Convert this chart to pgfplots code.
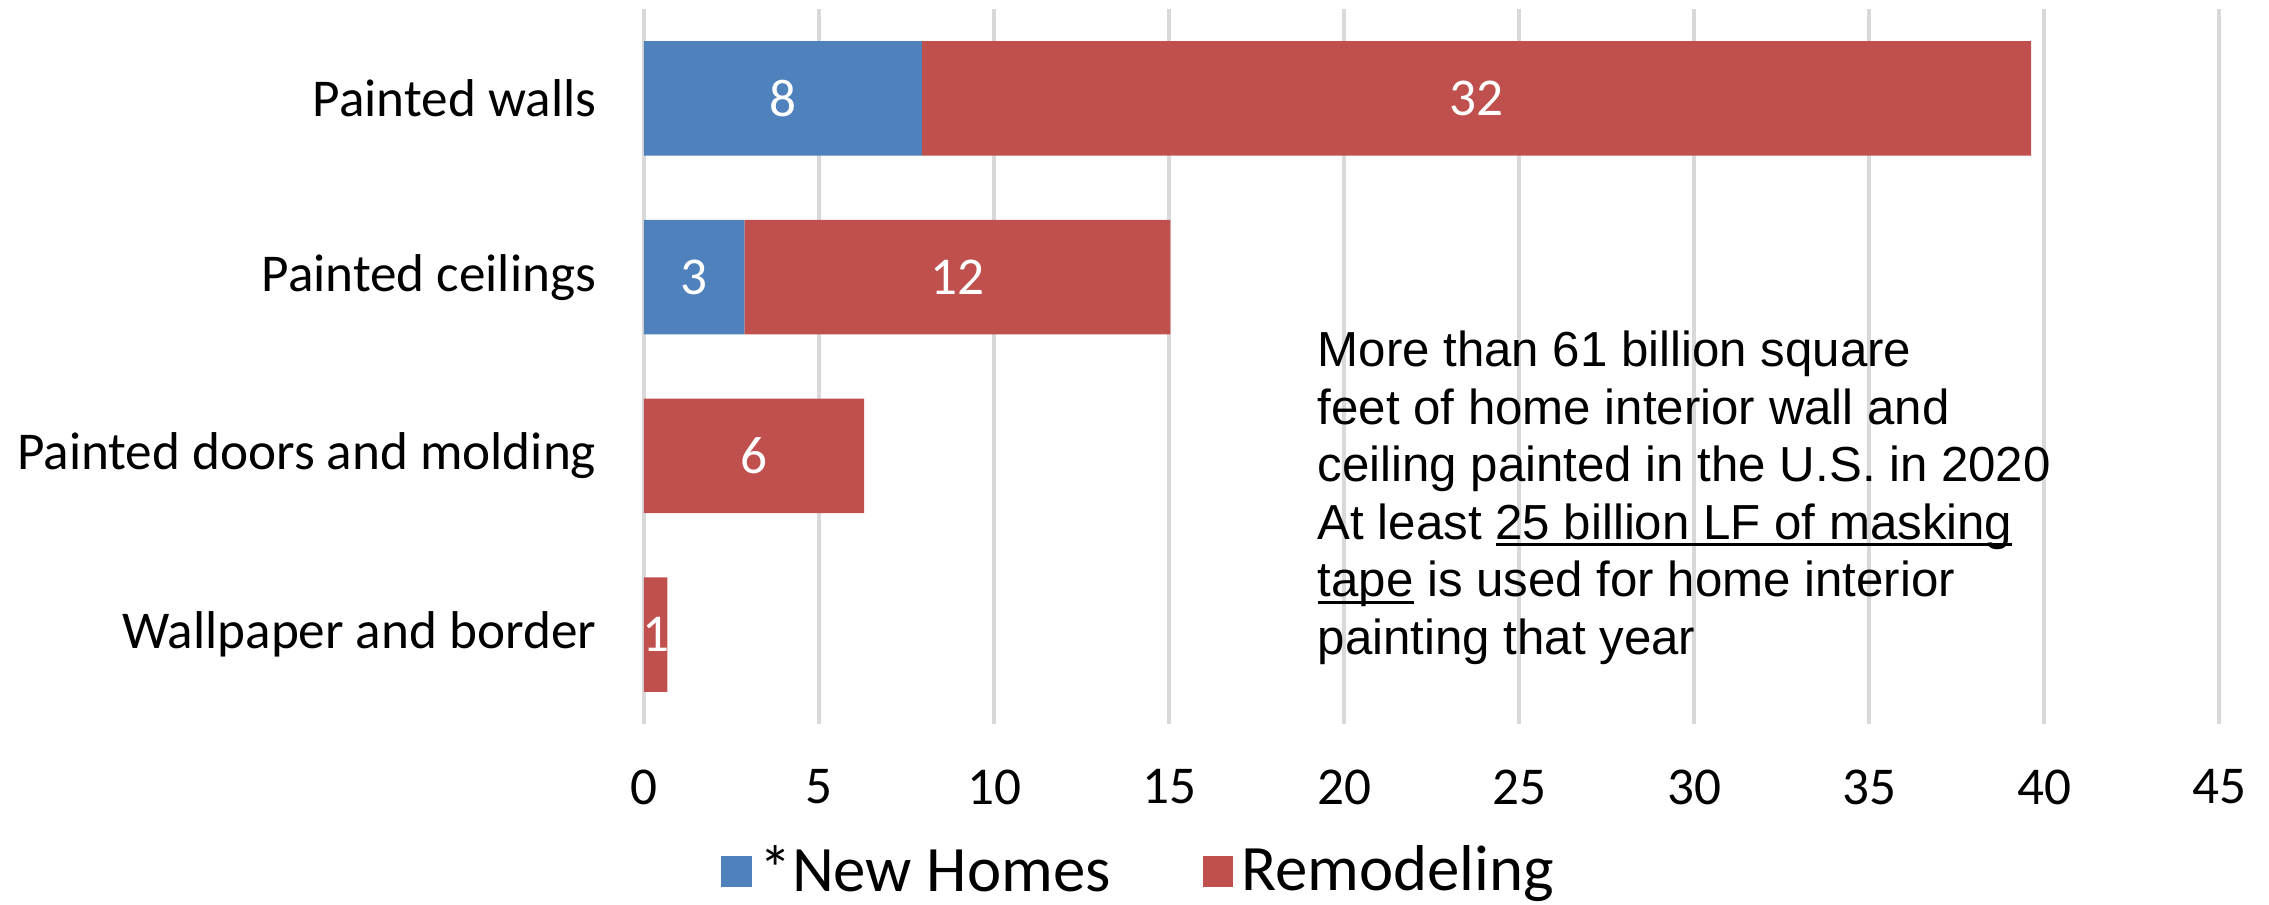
\documentclass[border=0pt]{standalone}
\usepackage{fontspec}
\setmainfont{Carlito}
\newfontfamily\arial{Liberation Sans}
\usepackage{pgfplots}
\pgfplotsset{compat=1.18}
\definecolor{nh}{HTML}{4F81BD}
\definecolor{rm}{HTML}{C0504D}
\definecolor{gridc}{HTML}{D9D9D9}
\newcommand\ul[1]{\setbox0\hbox{#1}\rlap{\rule[-1.7pt]{\wd0}{0.8pt}}\box0\relax}
\pgfplotsset{base/.style={
  scale only axis, width=393.75pt, height=178.75pt,
  xmin=0, xmax=45, ymin=-0.5, ymax=3.5, y dir=reverse}}
\begin{document}
\begin{tikzpicture}
\begin{axis}[base,
  xbar stacked, bar width=0.64,
  xtick={0,5,...,45}, ytick={0,1,2,3},
  yticklabels={Painted walls, Painted ceilings, Painted doors and molding, Wallpaper and border},
  xmajorgrids, major grid style={gridc, line width=0.9pt},
  axis line style={draw=none}, major tick length=0pt,
  tick label style={font=\fontsize{13.3}{16}\selectfont},
  /pgf/number format/assume math mode=true,
  yticklabel style={xshift=-8.4pt},
  xticklabel style={yshift=-7.9pt},
  legend style={at={(0.316,-0.206)}, anchor=center, draw=none, legend columns=2,
    font=\fontsize{16.2}{19}\selectfont,
    /tikz/every even column/.append style={column sep=21pt}},
  legend image code/.code={\fill[#1] (1.6pt,-3.8pt) rectangle (9.2pt,3.8pt);},
]
\addplot[fill=nh, draw=none] coordinates {(7.94,0) (2.87,1) (0,2) (0,3)};
\addlegendentry{*New Homes}
\addplot[fill=rm, draw=none] coordinates {(31.69,0) (12.17,1) (6.29,2) (0.67,3)};
\addlegendentry{Remodeling}
\node[anchor=north west, inner sep=0pt, align=left, font=\arial\fontsize{12.3}{14.4}\selectfont]
  at (axis cs:19.23,1.296)
  {More than 61 billion square\\
   feet of home interior wall and\\
   ceiling painted in the U.S. in 2020\\
   At least \ul{25 billion LF of masking}\\
   \ul{tape} is used for home interior\\
   painting that year};
\coordinate (bl) at (rel axis cs:0,0);
\end{axis}
% data labels, centred in each segment
\begin{axis}[base, hide axis]
\addplot[only marks, mark=*, mark size=0pt, mark options={draw=none, fill=none},
  nodes near coords, point meta=explicit symbolic,
  every node near coord/.append style={anchor=center, text=white, font=\fontsize{13.3}{16}\selectfont}]
  coordinates {(3.97,0) [8] (23.785,0) [32] (1.435,1) [3] (8.955,1) [12] (3.145,2) [6] (0.335,3) [1]};
\end{axis}
\pgfresetboundingbox
\path (bl) ++(-161pt,-45pt) rectangle ++(567.25pt,226pt);
\end{tikzpicture}
\end{document}
